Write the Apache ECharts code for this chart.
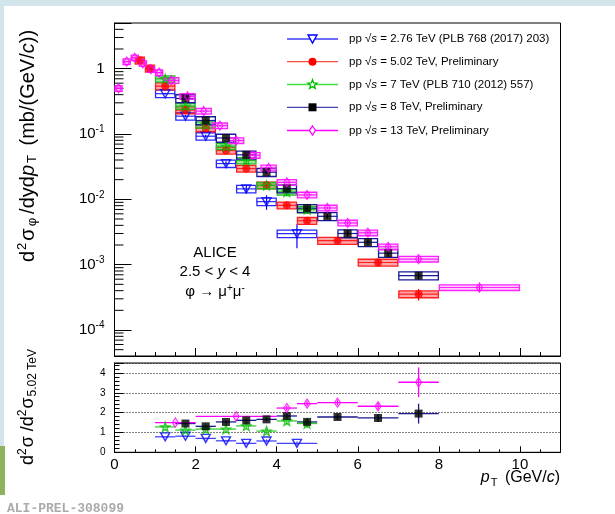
<!DOCTYPE html>
<html><head><meta charset="utf-8">
<script src="https://cdn.jsdelivr.net/npm/echarts/dist/echarts.min.js"></script>
<style>html,body{margin:0;padding:0;background:#fff}#c{width:615px;height:514px}</style>
</head><body><div id="c"></div>
<script>
// ---------- DATA ----------
// pp 2.76 TeV
const lo276 = [1.0, 1.5, 2.0, 2.5, 3.0, 3.5, 4.0];
const hi276 = [1.5, 2.0, 2.5, 3.0, 3.5, 4.0, 5.0];
const y276  = [0.414, 0.1875, 0.0925, 0.0353, 0.01445, 0.00922, 0.00298];
const st276 = [0.03, 0.04, 0.05, 0.08, 0.15, 0.25, 0.40];
const sys276 = 0.13;
// pp 5.02 TeV
const lo502 = [0.5, 0.75, 1.0, 1.5, 2.0, 2.5, 3.0, 3.5, 4.0, 4.5, 5.0, 6.0, 7.0];
const hi502 = [0.75, 1.0, 1.5, 2.0, 2.5, 3.0, 3.5, 4.0, 4.5, 5.0, 6.0, 7.0, 8.0];
const y502  = [1.34, 1.01, 0.54, 0.232, 0.123, 0.0558, 0.0296, 0.0164, 0.00809, 0.00471, 0.00233, 0.00108, 0.000354];
const st502 = [0.02, 0.02, 0.03, 0.03, 0.03, 0.04, 0.05, 0.06, 0.07, 0.08, 0.08, 0.12, 0.20];
const sys502 = 0.12;
// pp 7 TeV
const lo7 = [1.0, 1.5, 2.0, 2.5, 3.0, 3.5, 4.0, 4.5];
const hi7 = [1.5, 2.0, 2.5, 3.0, 3.5, 4.0, 4.5, 5.0];
const y7  = [0.70, 0.267, 0.138, 0.065, 0.0393, 0.0163, 0.0130, 0.0070];
const st7 = [0.05, 0.05, 0.06, 0.08, 0.10, 0.12, 0.15, 0.15];
const sys7 = 0.11;
// pp 8 TeV
const lo8 = [1.5, 2.0, 2.5, 3.0, 3.5, 4.0, 4.5, 5.0, 5.5, 6.0, 6.5, 7.0];
const hi8 = [2.0, 2.5, 3.0, 3.5, 4.0, 4.5, 5.0, 5.5, 6.0, 6.5, 7.0, 8.0];
const y8  = [0.35, 0.161, 0.087, 0.048, 0.026, 0.0146, 0.0073, 0.0055, 0.0030, 0.0022, 0.0015, 0.00068];
const st8 = [0.03, 0.03, 0.03, 0.04, 0.05, 0.06, 0.08, 0.08, 0.10, 0.10, 0.12, 0.12];
const sys8 = 0.14;
// pp 13 TeV
const lo13 = [0.0, 0.2, 0.4, 0.6, 0.8, 1.0, 1.2, 1.6, 2.0, 2.4, 2.8, 3.2, 3.6, 4.0, 4.5, 5.0, 5.5, 6.0, 6.5, 7.0, 8.0];
const hi13 = [0.2, 0.4, 0.6, 0.8, 1.0, 1.2, 1.6, 2.0, 2.4, 2.8, 3.2, 3.6, 4.0, 4.5, 5.0, 5.5, 6.0, 6.5, 7.0, 8.0, 10.0];
const y13  = [0.50, 1.28, 1.47, 1.21, 0.98, 0.87, 0.66, 0.376, 0.224, 0.134, 0.0795, 0.0473, 0.0303, 0.0182, 0.01167, 0.00738, 0.00435, 0.00308, 0.00188, 0.00122, 0.000447];
const st13 = [0.03, 0.02, 0.02, 0.02, 0.02, 0.02, 0.02, 0.02, 0.02, 0.03, 0.03, 0.03, 0.04, 0.04, 0.05, 0.05, 0.06, 0.07, 0.08, 0.08, 0.10];
const sys13 = 0.10;

// Ratios to 5.02 TeV
const rlo276 = [1.0, 1.5, 2.0, 2.5, 3.0, 3.5, 4.0];
const rhi276 = [1.5, 2.0, 2.5, 3.0, 3.5, 4.0, 5.0];
const r276   = [0.78, 0.81, 0.70, 0.58, 0.45, 0.57, 0.45];
const re276  = [0.04, 0.04, 0.04, 0.05, 0.06, 0.08, 0.10];
const rlo7 = [1.0, 1.5, 2.0, 2.5, 3.0, 3.5, 4.0, 4.5];
const rhi7 = [1.5, 2.0, 2.5, 3.0, 3.5, 4.0, 4.5, 5.0];
const r7   = [1.28, 1.12, 1.17, 1.17, 1.33, 1.07, 1.58, 1.45];
const re7  = [0.08, 0.08, 0.08, 0.09, 0.12, 0.12, 0.18, 0.22];
const rlo8 = [1.5, 2.0, 2.5, 3.0, 3.5, 4.0, 4.5, 5.0, 6.0, 7.0];
const rhi8 = [2.0, 2.5, 3.0, 3.5, 4.0, 4.5, 5.0, 6.0, 7.0, 8.0];
const r8   = [1.45, 1.31, 1.53, 1.61, 1.66, 1.83, 1.53, 1.78, 1.73, 1.95];
const re8  = [0.06, 0.06, 0.07, 0.08, 0.09, 0.12, 0.12, 0.14, 0.20, 0.50];
const rlo13 = [1.0, 2.0, 4.0, 4.5, 5.0, 6.0, 7.0];
const rhi13 = [2.0, 4.0, 4.5, 5.0, 6.0, 7.0, 8.0];
const r13   = [1.50, 1.81, 2.23, 2.45, 2.50, 2.32, 3.53];
const re13  = [0.05, 0.06, 0.12, 0.12, 0.12, 0.18, 0.75];

// Axis ticks
const xTickLabels = ['0', '2', '4', '6', '8', '10'];
const ratioTickLabels = ['0', '1', '2', '3', '4'];

// ---------- STYLE ----------
const FONT = '"Liberation Sans", Arial, Helvetica, sans-serif';
const C = {
  b276: {stroke: '#2a2aff', fill: 'rgba(255,255,255,0)', mk: '#0000ff'},
  b502: {stroke: '#ff2020', fill: 'rgba(255,60,60,0.45)', mk: '#ff0000'},
  b7:   {stroke: '#22bb22', fill: 'rgba(60,200,60,0.45)', mk: '#00bb00'},
  b8:   {stroke: '#1a1a99', fill: 'rgba(255,255,255,0)', mk: '#000000'},
  b13:  {stroke: '#ff20ff', fill: 'rgba(255,90,255,0.30)', mk: '#ff00ff'}
};
const STAR = 'path://M0,-10 L2.35,-3.24 L9.51,-3.09 L3.8,1.24 L5.88,8.09 L0,4 L-5.88,8.09 L-3.8,1.24 L-9.51,-3.09 L-2.35,-3.24 Z';

function mainBoxes(lo, hi, y, st, sys, s, z) {
  return {
    type: 'custom', xAxisIndex: 0, yAxisIndex: 0, silent: true, z: z,
    data: lo.map((l, i) => [l, hi[i], y[i], st[i]]),
    encode: {x: [0, 1], y: 2},
    renderItem: function (p, api) {
      const l = api.value(0), h = api.value(1), v = api.value(2), e = api.value(3);
      const a = api.coord([l, v * (1 + sys)]), b = api.coord([h, v * (1 - sys)]);
      const c = api.coord([(l + h) / 2, v]);
      const ea = api.coord([(l + h) / 2, v * (1 + e)]), eb = api.coord([(l + h) / 2, v * (1 - e)]);
      return {type: 'group', children: [
        {type: 'rect', shape: {x: a[0] + 0.5, y: a[1], width: b[0] - a[0] - 1, height: b[1] - a[1]},
          style: {fill: s.fill, stroke: s.stroke, lineWidth: 1.3}},
        {type: 'line', shape: {x1: a[0], y1: c[1], x2: b[0], y2: c[1]}, style: {stroke: s.stroke, lineWidth: 1.2}},
        {type: 'line', shape: {x1: c[0], y1: ea[1], x2: c[0], y2: eb[1]}, style: {stroke: s.mk, lineWidth: 1.2}}
      ]};
    }
  };
}
function markers(xi, yi, lo, hi, y, sym, z) {
  return Object.assign({
    type: 'scatter', xAxisIndex: xi, yAxisIndex: yi, silent: true, z: z,
    data: lo.map((l, i) => [(l + hi[i]) / 2, y[i]])
  }, sym);
}
function ratioLines(lo, hi, r, e, color, z) {
  return {
    type: 'custom', xAxisIndex: 1, yAxisIndex: 1, silent: true, z: z,
    data: lo.map((l, i) => [l, hi[i], r[i], e[i]]),
    encode: {x: [0, 1], y: 2},
    renderItem: function (p, api) {
      const l = api.value(0), h = api.value(1), v = api.value(2), err = api.value(3);
      const a = api.coord([l, v]), b = api.coord([h, v]);
      const ea = api.coord([(l + h) / 2, v + err]), eb = api.coord([(l + h) / 2, v - err]);
      return {type: 'group', children: [
        {type: 'line', shape: {x1: a[0], y1: a[1], x2: b[0], y2: b[1]}, style: {stroke: color, lineWidth: 1.3}},
        {type: 'line', shape: {x1: ea[0], y1: ea[1], x2: eb[0], y2: eb[1]}, style: {stroke: color, lineWidth: 1.3}}
      ]};
    }
  };
}
const symTri = (s) => ({symbol: 'triangle', symbolRotate: 180, symbolSize: [9, 8], itemStyle: {color: 'rgba(255,255,255,0)', borderColor: s, borderWidth: 1.4}});
const symCirc = (s) => ({symbol: 'circle', symbolSize: 8, itemStyle: {color: s}});
const symStar = (s) => ({symbol: STAR, symbolSize: 9, itemStyle: {color: 'rgba(255,255,255,0)', borderColor: s, borderWidth: 1.3}});
const symSq = (s) => ({symbol: 'rect', symbolSize: 8, itemStyle: {color: s}});
const symDia = (s) => ({symbol: 'diamond', symbolSize: [6, 9], itemStyle: {color: 'rgba(255,255,255,0)', borderColor: s, borderWidth: 1.3}});

// minor ticks for the log axis (2..9 x 10^n)
const logMinorTicks = [];
for (let n = -5; n <= 0; n++) for (let k = 2; k <= 9; k++) { const v = k * Math.pow(10, n); if (v > 4e-5 && v < 5) logMinorTicks.push(v); }

const chart = echarts.init(document.getElementById('c'), null, {renderer: 'canvas'});
const G0 = {left: 114.5, top: 23, width: 446, height: 333};
const G1 = {left: 114.5, top: 363, width: 446, height: 89.3};

const legendRows = [
  {y: 39, col: '#3b3bff', mk: 'tri', mc: '#0000ff', txt: ' = 2.76 TeV (PLB 768 (2017) 203)'},
  {y: 61.7, col: '#ff4a4a', mk: 'circ', mc: '#ff0000', txt: ' = 5.02 TeV, Preliminary'},
  {y: 84.5, col: '#44dd44', mk: 'star', mc: '#00bb00', txt: ' = 7 TeV (PLB 710 (2012) 557)'},
  {y: 107.3, col: '#4646aa', mk: 'sq', mc: '#000000', txt: ' = 8 TeV, Preliminary'},
  {y: 130.5, col: '#ff00ff', mk: 'dia', mc: '#ff00ff', txt: ' = 13 TeV, Preliminary'}
];
const graphics = [
  {type: 'rect', z: -10, shape: {x: 0, y: 0, width: 615, height: 6}, style: {fill: '#d2e5eb'}},
  {type: 'rect', z: -10, shape: {x: 0, y: 0, width: 4, height: 446}, style: {fill: '#d2e5eb'}},
  {type: 'rect', z: -10, shape: {x: 0, y: 446, width: 5, height: 49}, style: {fill: '#8db35e'}},
  {type: 'text', x: 7, y: 502, style: {text: 'ALI-PREL-308099', font: 'bold 13px "Liberation Mono", "DejaVu Sans Mono", monospace', fill: '#ababab'}},
  {type: 'text', x: 215, y: 253, style: {text: 'ALICE', font: '15px ' + FONT, fill: '#000', align: 'center', verticalAlign: 'middle'}},
  {type: 'text', x: 215, y: 272, style: {text: '{n|2.5 < }{i|y}{n| < 4}', align: 'center', verticalAlign: 'middle',
    rich: {n: {fontSize: 15, fontFamily: FONT, fill: '#000'}, i: {fontSize: 15, fontFamily: FONT, fontStyle: 'italic', fill: '#000'}}}},
  {type: 'text', x: 215, y: 292, style: {text: '{n|φ → μ}{s|+}{n|μ}{s|-}', align: 'center', verticalAlign: 'middle',
    rich: {n: {fontSize: 15, fontFamily: FONT, fill: '#000'}, s: {fontSize: 10, fontFamily: FONT, fill: '#000', padding: [0, 0, 8, 0]}}}},
  {type: 'text', x: 28, y: 146, rotation: Math.PI / 2, style: {
    text: '{n|d}{s|2}{n|σ}{b|φ}{n|/dyd}{i|p}{b|T}{n| (mb/(GeV/}{i|c}{n|))}', align: 'center', verticalAlign: 'middle',
    rich: {n: {fontSize: 20, fontFamily: FONT, fill: '#000'}, i: {fontSize: 20, fontFamily: FONT, fontStyle: 'italic', fill: '#000'},
      s: {fontSize: 13, fontFamily: FONT, fill: '#000', padding: [0, 2, 11, 1]}, b: {fontSize: 13, fontFamily: FONT, fill: '#000', padding: [9, 4, 0, 2]}}}},
  {type: 'text', x: 28, y: 407, rotation: Math.PI / 2, style: {
    text: '{n|d}{s|2}{n|σ /d}{s|2}{n|σ}{b|5.02 TeV}', align: 'center', verticalAlign: 'middle',
    rich: {n: {fontSize: 18, fontFamily: FONT, fill: '#000'}, s: {fontSize: 12, fontFamily: FONT, fill: '#000', padding: [0, 1, 10, 0]},
      b: {fontSize: 12, fontFamily: FONT, fill: '#000', padding: [9, 0, 0, 1]}}}},
  {type: 'text', x: 560, y: 478, style: {text: '{i|p}{b|T}{n| (GeV/}{i|c}{n|)}', align: 'right', verticalAlign: 'middle',
    rich: {n: {fontSize: 16, fontFamily: FONT, fill: '#000'}, i: {fontSize: 16, fontFamily: FONT, fontStyle: 'italic', fill: '#000'},
      b: {fontSize: 11, fontFamily: FONT, fill: '#000', padding: [10, 3, 0, 1]}}}}
];
legendRows.forEach(r => {
  graphics.push({type: 'line', shape: {x1: 287, y1: r.y, x2: 338, y2: r.y}, style: {stroke: r.col, lineWidth: 1.3}});
  const cx = 312.5, cy = r.y;
  if (r.mk === 'tri') graphics.push({type: 'polygon', shape: {points: [[cx - 4.5, cy - 4], [cx + 4.5, cy - 4], [cx, cy + 4]]}, style: {fill: '#fff', stroke: r.mc, lineWidth: 1.4}});
  if (r.mk === 'circ') graphics.push({type: 'circle', shape: {cx: cx, cy: cy, r: 4}, style: {fill: r.mc}});
  if (r.mk === 'star') { const pts = []; for (let k = 0; k < 10; k++) { const a = -Math.PI / 2 + k * Math.PI / 5, rr = k % 2 ? 2 : 4.8; pts.push([cx + rr * Math.cos(a), cy + rr * Math.sin(a)]); }
    graphics.push({type: 'polygon', shape: {points: pts}, style: {fill: '#fff', stroke: r.mc, lineWidth: 1.3}}); }
  if (r.mk === 'sq') graphics.push({type: 'rect', shape: {x: cx - 4, y: cy - 4, width: 8, height: 8}, style: {fill: r.mc}});
  if (r.mk === 'dia') graphics.push({type: 'polygon', shape: {points: [[cx, cy - 4.5], [cx + 3, cy], [cx, cy + 4.5], [cx - 3, cy]]}, style: {fill: '#fff', stroke: r.mc, lineWidth: 1.3}});
  graphics.push({type: 'text', x: 349, y: r.y, style: {text: '{n|pp }{n|√}{i|s}{n|' + r.txt + '}', verticalAlign: 'middle',
    rich: {n: {fontSize: 11.5, fontFamily: FONT, fill: '#000'}, i: {fontSize: 11.5, fontFamily: FONT, fontStyle: 'italic', fill: '#000'}}}});
});

const axisCommon = {axisLine: {lineStyle: {color: '#000', width: 1}}, splitLine: {show: false}};
const option = {
  animation: false,
  backgroundColor: '#fff',
  grid: [
    Object.assign({show: true, borderColor: '#000', borderWidth: 1, backgroundColor: 'transparent', outerBoundsMode: 'none', containLabel: false}, G0),
    Object.assign({show: true, borderColor: '#000', borderWidth: 1, backgroundColor: 'transparent', outerBoundsMode: 'none', containLabel: false}, G1)
  ],
  xAxis: [
    Object.assign({type: 'value', gridIndex: 0, min: 0, max: 11, interval: 2,
      axisTick: {inside: true, length: 8, lineStyle: {color: '#000'}}, minorTick: {show: true, splitNumber: 4, length: 4, lineStyle: {color: '#000'}},
      axisLabel: {show: false}}, axisCommon),
    Object.assign({type: 'value', gridIndex: 1, min: 0, max: 11, interval: 2,
      axisTick: {inside: true, length: 6, lineStyle: {color: '#000'}}, minorTick: {show: true, splitNumber: 4, length: 3, lineStyle: {color: '#000'}},
      axisLabel: {margin: 5, fontSize: 15, fontFamily: FONT, color: '#000', showMaxLabel: false,
        formatter: v => { const i = Math.round(v / 2); return (Math.abs(v - 2 * i) < 1e-9 && i < xTickLabels.length) ? xTickLabels[i] : ''; }}}, axisCommon)
  ],
  yAxis: [
    Object.assign({type: 'log', logBase: 10, gridIndex: 0, min: 4e-5, max: 5, splitNumber: 5,
      axisTick: {inside: true, length: 17, lineStyle: {color: '#000'}},
      axisLabel: {margin: 10, color: '#000', fontFamily: FONT,
        formatter: v => { const L = Math.log10(v), n = Math.round(L); if (Math.abs(L - n) > 1e-6) return ''; return n === 0 ? '{b|1}' : '{b|10}{s|' + n + '}'; },
        rich: {b: {fontSize: 15, fontFamily: FONT, color: '#000'}, s: {fontSize: 10, fontFamily: FONT, color: '#000', padding: [0, 0, 9, 0]}}}}, axisCommon),
    Object.assign({type: 'value', gridIndex: 1, min: 0, max: 4.5, interval: 1,
      axisTick: {inside: true, length: 9, lineStyle: {color: '#000'}}, minorTick: {show: true, splitNumber: 5, length: 5, lineStyle: {color: '#000'}},
      splitLine: {show: true, lineStyle: {color: '#000', type: [1, 2], width: 1}},
      axisLabel: {margin: 9, fontSize: 10, fontFamily: FONT, color: '#000', showMaxLabel: false,
        formatter: v => { const i = Math.round(v); return (Math.abs(v - i) < 1e-9 && i < ratioTickLabels.length) ? ratioTickLabels[i] : ''; }}},
      {axisLine: {lineStyle: {color: '#000', width: 1}}})
  ],
  graphic: graphics,
  series: [
    {type: 'custom', xAxisIndex: 0, yAxisIndex: 0, silent: true, z: 1, data: logMinorTicks.map(v => [0, v]), encode: {x: 0, y: 1},
      renderItem: (p, api) => { const c = api.coord([0, api.value(1)]); return {type: 'line', shape: {x1: c[0], y1: c[1], x2: c[0] + 9, y2: c[1]}, style: {stroke: '#000', lineWidth: 1}}; }},
    mainBoxes(lo276, hi276, y276, st276, sys276, C.b276, 3),
    mainBoxes(lo502, hi502, y502, st502, sys502, C.b502, 3),
    mainBoxes(lo7, hi7, y7, st7, sys7, C.b7, 3),
    mainBoxes(lo8, hi8, y8, st8, sys8, C.b8, 3),
    mainBoxes(lo13, hi13, y13, st13, sys13, C.b13, 3),
    markers(0, 0, lo276, hi276, y276, symTri('#0000ff'), 5),
    markers(0, 0, lo502, hi502, y502, symCirc('#ff0000'), 5),
    markers(0, 0, lo7, hi7, y7, symStar('#00bb00'), 5),
    markers(0, 0, lo8, hi8, y8, symSq('#000000'), 5),
    markers(0, 0, lo13, hi13, y13, symDia('#ff00ff'), 5),
    ratioLines(rlo276, rhi276, r276, re276, '#4444ff', 3),
    ratioLines(rlo7, rhi7, r7, re7, '#33cc33', 3),
    ratioLines(rlo8, rhi8, r8, re8, '#1a1a8c', 3),
    ratioLines(rlo13, rhi13, r13, re13, '#ff00ff', 3),
    markers(1, 1, rlo276, rhi276, r276, symTri('#0000ff'), 5),
    markers(1, 1, rlo7, rhi7, r7, symStar('#00bb00'), 5),
    markers(1, 1, rlo8, rhi8, r8, symSq('#000000'), 5),
    markers(1, 1, rlo13, rhi13, r13, symDia('#ff00ff'), 5)
  ]
};
chart.setOption(option);
</script></body></html>
